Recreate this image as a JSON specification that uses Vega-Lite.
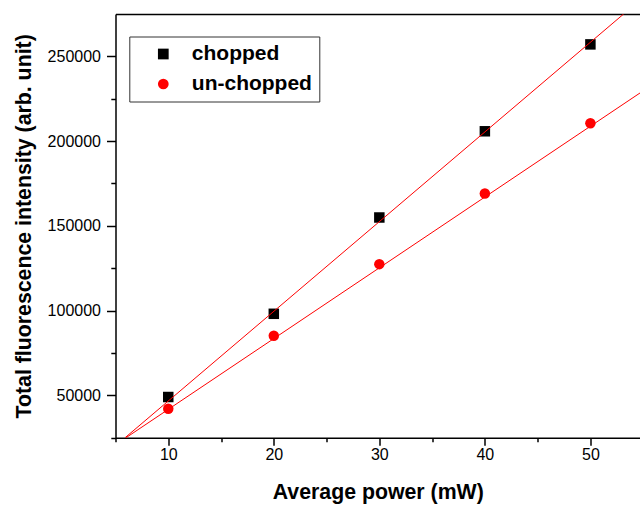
{
  "$schema": "https://vega.github.io/schema/vega-lite/v6.json",
  "autosize": "none",
  "width": 524.5,
  "height": 423.7,
  "padding": {"left": 115.5, "top": 14, "right": 0, "bottom": 67.3},
  "background": "white",
  "config": {
    "view": {"stroke": null},
    "font": "Liberation Sans",
    "axis": {
      "grid": false,
      "domainColor": "black",
      "domainWidth": 1.5,
      "tickColor": "black",
      "tickWidth": 1.5,
      "labelFont": "Liberation Sans",
      "labelFontSize": 16,
      "labelColor": "black",
      "titleFont": "Liberation Sans",
      "titleFontSize": 21.3,
      "titleFontWeight": "bold",
      "titleColor": "black"
    },
    "legend": {
      "strokeColor": "#333",
      "fillColor": "white",
      "padding": 7,
      "symbolOffset": 16.5,
      "labelOffset": 18,
      "labelFont": "Liberation Sans",
      "labelFontSize": 21,
      "labelFontWeight": "bold",
      "labelColor": "black",
      "rowPadding": 8,
      "symbolSize": 115,
      "symbolStrokeWidth": 0
    }
  },
  "datasets": {
    "points": [
      {"power": 10, "intensity": 49010, "series": "chopped"},
      {"power": 20, "intensity": 98110, "series": "chopped"},
      {"power": 30, "intensity": 154930, "series": "chopped"},
      {"power": 40, "intensity": 205800, "series": "chopped"},
      {"power": 50, "intensity": 257070, "series": "chopped"},
      {"power": 10, "intensity": 42120, "series": "un-chopped"},
      {"power": 20, "intensity": 85140, "series": "un-chopped"},
      {"power": 30, "intensity": 127400, "series": "un-chopped"},
      {"power": 40, "intensity": 169070, "series": "un-chopped"},
      {"power": 50, "intensity": 210510, "series": "un-chopped"}
    ],
    "fits": [
      {"power": 5.91, "intensity": 25000, "fit": "chopped"},
      {"power": 53.15, "intensity": 275000, "fit": "chopped"},
      {"power": 6.0, "intensity": 25000, "fit": "un-chopped"},
      {"power": 54.7, "intensity": 228400, "fit": "un-chopped"}
    ]
  },
  "layer": [
    {
      "data": {"name": "points"},
      "mark": {"type": "point", "filled": true, "size": 110, "opacity": 1},
      "encoding": {
        "x": {
          "field": "power",
          "type": "quantitative",
          "scale": {"domain": [5, 54.7], "nice": false, "zero": false},
          "axis": {
            "orient": "bottom",
            "title": "Average power (mW)",
            "values": [5, 10, 15, 20, 25, 30, 35, 40, 45, 50],
            "labelExpr": "datum.value % 10 === 0 ? datum.label : ''",
            "tickSize": {"condition": {"test": "datum.value % 10 === 0", "value": 7.5}, "value": 4},
            "labelPadding": 1,
            "titlePadding": 19
          }
        },
        "y": {
          "field": "intensity",
          "type": "quantitative",
          "scale": {"domain": [25000, 275000], "nice": false, "zero": false},
          "axis": {
            "title": "Total fluorescence intensity (arb. unit)",
            "values": [25000, 50000, 75000, 100000, 125000, 150000, 175000, 200000, 225000, 250000],
            "format": "d",
            "labelExpr": "datum.value % 50000 === 0 ? datum.label : ''",
            "tickSize": {"condition": {"test": "datum.value % 50000 === 0", "value": 9}, "value": 4.7},
            "labelPadding": 6,
            "titlePadding": 13
          }
        },
        "shape": {
          "field": "series",
          "type": "nominal",
          "scale": {"domain": ["chopped", "un-chopped"], "range": ["square", "circle"]},
          "legend": {"title": null, "orient": "none", "legendX": 13.8, "legendY": 22.5,
            "encode": {"labels": {"update": {"text": {"signal": "datum.label + '\u2003\u2003'"}}}}}
        },
        "color": {
          "field": "series",
          "type": "nominal",
          "scale": {"domain": ["chopped", "un-chopped"], "range": ["black", "#ff0000"]},
          "legend": {"title": null, "orient": "none", "legendX": 13.8, "legendY": 22.5,
            "encode": {"labels": {"update": {"text": {"signal": "datum.label + '\u2003\u2003'"}}}}}
        }
      }
    },
    {
      "data": {"name": "fits"},
      "mark": {"type": "line", "color": "#ff0000", "strokeWidth": 1, "clip": true},
      "encoding": {
        "x": {
          "field": "power",
          "type": "quantitative",
          "axis": {"orient": "top", "labels": false, "ticks": false, "title": null}
        },
        "y": {"field": "intensity", "type": "quantitative"},
        "detail": {"field": "fit", "type": "nominal"}
      }
    }
  ]
}
